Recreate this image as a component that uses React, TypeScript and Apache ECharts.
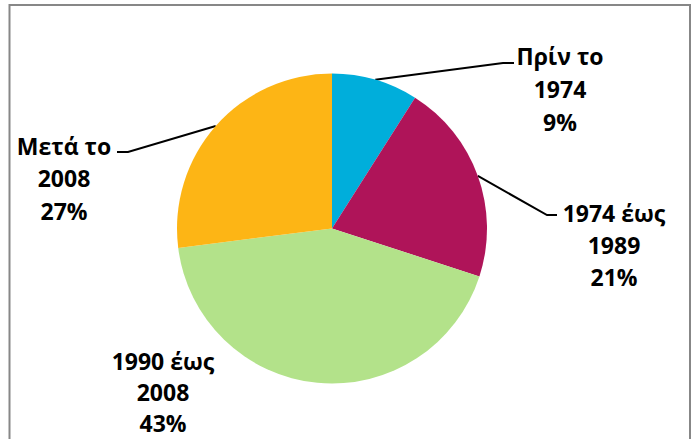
import React, { useEffect, useRef } from "react";
import * as echarts from "echarts";

// ---- data ----
const categories: string[] = ["Πρίν το\n1974", "1974 έως\n1989", "1990 έως\n2008", "Μετά το\n2008"];
const shares: number[] = [9, 21, 43, 27];
const sliceColors: string[] = ["#00AEDB", "#AF1459", "#B3E28A", "#FDB515"];

// ---- layout (pixels) ----
const PIE_CX = 332;
const PIE_CY = 228.5;
const PIE_R = 155;
// centre of each label block (middle line)
const labelCentres: number[][] = [
  [560, 88.5],
  [614, 245],
  [163, 392],
  [64, 178],
];
const labelLineHeights: number[] = [33, 32, 31, 32.5];
// bend point and end point of each leader line (null: no leader line)
const leaderEnds: (number[][] | null)[] = [
  [[503, 63], [514, 63]],
  [[547, 215], [557, 215]],
  null,
  [[128, 152], [117, 152]],
];

function midPoint(i: number): number[] {
  const total = shares.reduce((a, b) => a + b, 0);
  let before = 0;
  for (let k = 0; k < i; k++) before += shares[k];
  const mid = ((before + shares[i] / 2) / total) * Math.PI * 2; // clockwise from top
  return [PIE_CX + PIE_R * Math.sin(mid), PIE_CY - PIE_R * Math.cos(mid)];
}

export default function App() {
  const ref = useRef<HTMLDivElement>(null);
  useEffect(() => {
    if (!ref.current) return;
    const chart = echarts.init(ref.current, undefined, { renderer: "svg" });
    chart.setOption({
      animation: false,
      backgroundColor: "#ffffff",
      graphic: [
        {
          type: "rect",
          shape: { x: 9.5, y: 5, width: 680.5, height: 445 },
          style: { fill: "none", stroke: "#878787", lineWidth: 2 },
          silent: true,
          z: 100,
        },
      ],
      series: [
        {
          type: "pie",
          center: [PIE_CX, PIE_CY],
          radius: PIE_R,
          startAngle: 90,
          clockwise: true,
          avoidLabelOverlap: false,
          silent: true,
          emphasis: { disabled: true, scale: false },
          data: categories.map((name, i) => ({
            name,
            value: shares[i],
            itemStyle: { color: sliceColors[i] },
            label: { lineHeight: labelLineHeights[i] },
            labelLine: { show: leaderEnds[i] !== null },
          })),
          label: {
            show: true,
            position: "outside",
            formatter: (p: any) => `${p.name}\n${p.value}%`,
            fontFamily: "'Open Sans', 'Noto Sans', sans-serif",
            fontWeight: "bold",
            fontSize: 23,
            lineHeight: 32,
            color: "#000000",
            align: "center",
          },
          labelLine: {
            show: true,
            length: 10,
            length2: 10,
            smooth: false,
            lineStyle: { color: "#000000", width: 2 },
          },
          labelLayout: (params: any) => {
            const i = params.dataIndex;
            const c = labelCentres[i];
            const out: any = { x: c[0], y: c[1], align: "center", verticalAlign: "middle" };
            const ends = leaderEnds[i];
            if (ends) {
              out.labelLinePoints = [midPoint(i), ends[0], ends[1]];
            }
            return out;
          },
        },
      ],
    });
    return () => chart.dispose();
  }, []);
  return (
    <div
      ref={ref}
      style={{ position: "absolute", left: 0, top: 0, width: 694, height: 439 }}
    />
  );
}
